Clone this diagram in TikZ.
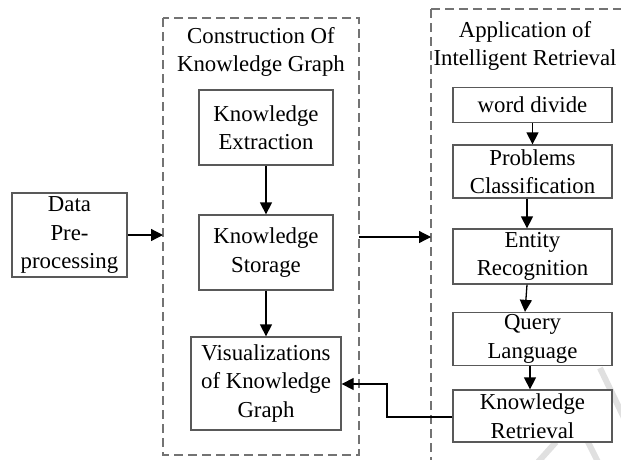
\documentclass[tikz,border=0pt]{standalone}
\usepackage{fontspec}
\setmainfont{Liberation Serif}
\usetikzlibrary{arrows.meta}
\begin{document}
\begin{tikzpicture}[x=1pt,y=-1pt,
  every node/.style={font=\fontsize{22.8}{28.5}\selectfont, align=center, inner sep=0pt},
  stepbox/.style={draw=black!65, line width=1.3pt, fill=white},
  group/.style={draw=black!55, line width=1.3pt, dash pattern=on 9pt off 5pt},
  flow/.style={draw=black, line width=1.3pt, -{Triangle[length=12pt,width=12pt]}},
  mark stripe/.style={draw=black!12, line width=6pt}
]
\useasboundingbox (0,0) rectangle (621,459);
\clip (0,0) rectangle (621,459);
\fill[white] (0,0) rectangle (621,459);

% faint background stripes
\draw[mark stripe] (600,368) -- (626,422);
\draw[mark stripe] (586,438) -- (598,462);
\draw[mark stripe] (538,462) -- (556,442);

% group frames
\draw[group] (163,18) rectangle (359,455);
\draw[group] (431,9) -- (640,9);
\draw[group] (431,9) -- (431,470);

\node (t1) at (261,52) {Construction Of\\Knowledge Graph};
\node (t2) at (525,46) {Application of\\Intelligent Retrieval};

% left column
\node[stepbox, minimum width=115pt, minimum height=84pt] (pre) at (69.5,235) {Data\\Pre-\\processing};
\node[stepbox, minimum width=134pt, minimum height=75pt] (ext) at (266,127.5) {Knowledge\\Extraction};
\node[stepbox, minimum width=134pt, minimum height=75pt] (sto) at (266,252.5) {Knowledge\\Storage};
\node[stepbox, minimum width=150pt, minimum height=93pt] (vis) at (266,383.5) {Visualizations\\of Knowledge\\Graph};

% right column
\node[stepbox, minimum width=159pt, minimum height=35pt] (wd) at (532.5,105) {word divide};
\node[stepbox, minimum width=159pt, minimum height=53pt] (pc) at (532.5,171.5) {Problems\\Classification};
\node[stepbox, minimum width=159pt, minimum height=55pt] (er) at (532.5,256.5) {Entity\\Recognition};
\node[stepbox, minimum width=159pt, minimum height=53pt] (ql) at (532.5,339) {Query\\Language};
\node[stepbox, minimum width=159pt, minimum height=52pt] (kr) at (532.5,416) {Knowledge\\Retrieval};

% frame anchor points
\coordinate (gl) at (163,235);
\coordinate (gr0) at (359,237);
\coordinate (gr1) at (431,237);
\coordinate (bend) at (387,417);

% connectors
\draw[flow] (pre.east |- gl) -- (gl);
\draw[flow] (ext) -- (sto);
\draw[flow] (sto) -- (vis);
\draw[flow] (gr0) -- (gr1);
\draw[flow] (wd.south) -- (pc.north);
\draw[flow] (pc.south -| 527,0) -- (er.north -| 527,0);
\draw[flow] (er.south -| 527,0) -- (ql.north -| 525,0);
\draw[flow] (ql.south -| 530,0) -- (kr.north -| 530,0);
\draw[flow] (kr.west |- bend) -- (bend) -- (387,384) -- (vis.east |- 0,384);
\end{tikzpicture}
\end{document}
